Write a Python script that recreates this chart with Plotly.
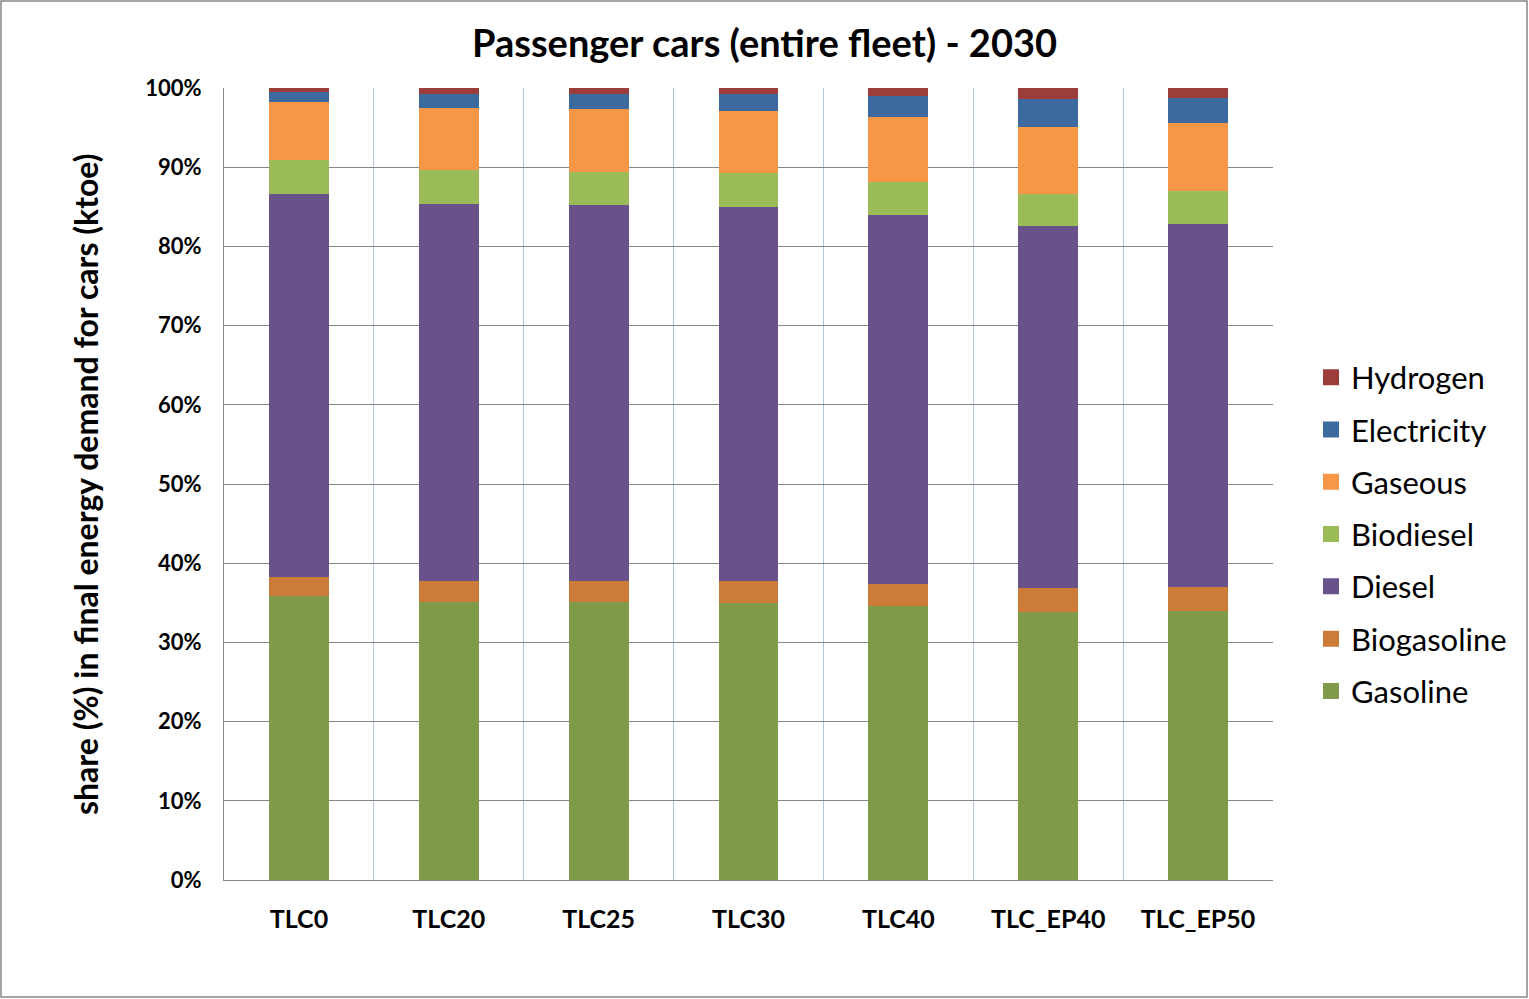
import plotly.graph_objects as go

categories = ["TLC0", "TLC20", "TLC25", "TLC30", "TLC40", "TLC_EP40", "TLC_EP50"]

gasoline    = [35.9, 35.1, 35.1, 35.0, 34.6, 33.9, 34.0]
biogasoline = [2.4, 2.65, 2.65, 2.75, 2.8, 3.0, 3.0]
diesel      = [48.3, 47.6, 47.45, 47.25, 46.6, 45.7, 45.8]
biodiesel   = [4.3, 4.25, 4.2, 4.3, 4.1, 4.0, 4.2]
gaseous     = [7.3, 7.9, 7.9, 7.8, 8.2, 8.5, 8.6]
electricity = [1.3, 1.75, 1.95, 2.15, 2.7, 3.45, 3.2]
hydrogen    = [0.5, 0.75, 0.75, 0.75, 1.0, 1.45, 1.2]

series_names = ["Gasoline", "Biogasoline", "Diesel", "Biodiesel", "Gaseous", "Electricity", "Hydrogen"]
series_values = [gasoline, biogasoline, diesel, biodiesel, gaseous, electricity, hydrogen]
series_colors = ["#7F9B4A", "#CC7B38", "#69518A", "#9BBB59", "#F79646", "#3D6A9E", "#9C3D3B"]

FONT = "Lato"
x_idx = list(range(len(categories)))
n = len(series_names)

fig = go.Figure()
for i, (name, vals, col) in enumerate(zip(series_names, series_values, series_colors)):
    fig.add_trace(go.Bar(
        x=x_idx, y=[v / 100 for v in vals], name=name,
        marker=dict(color=col, line=dict(width=0)),
        showlegend=False,
    ))
# legend entries (square swatches), Hydrogen on top
for i, (name, col) in enumerate(zip(series_names, series_colors)):
    fig.add_trace(go.Scatter(
        x=[None], y=[None], mode="markers", name=name,
        marker=dict(symbol="square", size=18, color=col),
        legendgroup=name, legendrank=n - i, showlegend=True,
    ))

fig.update_layout(
    width=1529, height=999,
    barmode="stack", bargap=0.6,
    plot_bgcolor="white", paper_bgcolor="white",
    margin=dict(l=224, r=256, t=88, b=119),
    font=dict(family=FONT, color="black"),
    title=dict(text="<b>Passenger cars (entire fleet) - 2030</b>",
               x=0.5, xref="container", xanchor="center",
               y=1 - 44 / 999, yref="container", yanchor="middle",
               font=dict(size=38, family=FONT, color="black")),
    legend=dict(x=(1311 - 224) / 1049, xanchor="left", y=(880 - 534.5) / 792, yanchor="middle",
                traceorder="grouped", tracegroupgap=9,
                font=dict(size=31, family=FONT, color="black"),
                bgcolor="rgba(0,0,0,0)"),
    showlegend=True,
)

fig.update_xaxes(
    range=[-0.5, 6.5], tickmode="array", tickvals=x_idx, ticktext=[f"<b>{c}</b>" for c in categories],
    tickfont=dict(size=25, family=FONT, color="black"),
    showgrid=False, zeroline=False,
    showline=True, linecolor="#868686", linewidth=1,
    ticks="", ticklabelstandoff=17,
    minor=dict(tickmode="array", tickvals=[i + 0.5 for i in x_idx], showgrid=True,
               gridcolor="#B0C4DE", gridwidth=1, ticks=""),
    fixedrange=True,
)
fig.update_yaxes(
    range=[0, 1], tickmode="linear", tick0=0, dtick=0.1, tickformat=".0%",
    tickprefix="<b>", ticksuffix="</b>",
    tickfont=dict(size=22, family=FONT, color="black"),
    showgrid=True, gridcolor="#868686", gridwidth=1,
    showline=True, linecolor="#868686", linewidth=1,
    zeroline=False, ticks="",
    ticklabelstandoff=17,
)

fig.add_annotation(
    text="<b>share (%) in final energy demand for cars (ktoe)</b>",
    xref="paper", yref="paper", x=(85 - 224) / 1049, y=(880 - 484) / 792,
    xanchor="center", yanchor="middle", textangle=-90, showarrow=False,
    font=dict(size=32, family=FONT, color="black"),
)

fig.add_shape(type="rect", xref="paper", yref="paper",
              x0=(1 - 224) / 1049, x1=(1527 - 224) / 1049,
              y0=(880 - 997) / 792, y1=(880 - 1) / 792,
              line=dict(color="#868686", width=1.5), fillcolor="rgba(0,0,0,0)", layer="below")

fig.write_html("out.html", config={"displayModeBar": False},
               post_script="document.body.style.margin='0';")
